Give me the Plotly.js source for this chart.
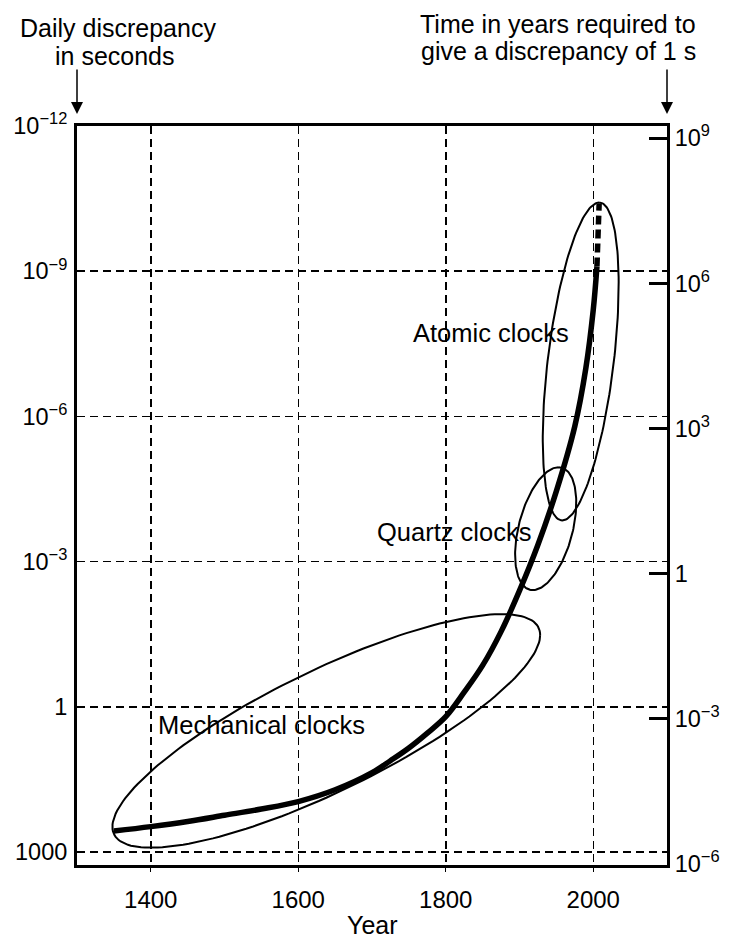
<!DOCTYPE html>
<html><head><meta charset="utf-8">
<script src="https://cdn.plot.ly/plotly-3.0.1.min.js"></script>
<style>html,body{margin:0;padding:0;background:#fff}#chart{width:730px;height:941px}</style>
</head><body><div id="chart"></div>
<script>
// Thick curve: year vs daily discrepancy (seconds)
const curveYears = [1350,1400,1450,1500,1550,1600,1650,1700,1725,1750,1775,1800,1825,1850,1875,1900,1925,1950,1975,1990,2000,2005];
const curveDiscrepancy = [370,300,235,175,130,91,52,23,13,7.1,3.5,1.6,0.5,0.14,0.028,0.004,4.5e-4,3.5e-5,1.6e-6,1e-7,6.3e-9,8e-10];
// Dashed projection
const projYears = [2005,2008];
const projDiscrepancy = [8e-10,4e-11];

// Ellipses (centre, conjugate half-axes A and B) in (year, log10 discrepancy)
const ellipseNames = ['Mechanical clocks','Quartz clocks','Atomic clocks'];
const ellipseCenterYear = [1638,1935.5,1983];
const ellipseCenterLog = [0.5,-3.68,-7.135];
const ellipseAYear = [290,17.5,25];
const ellipseALog = [-1.98,-1.27,-3.285];
const ellipseBYear = [0,37.6,45];
const ellipseBLog = [1.38,0,0];

// Labels
const labelText = ['Mechanical clocks','Quartz clocks','Atomic clocks'];
const labelYear = [1550,1811,1862];
const labelDiscrepancy = [2.4,2.45e-4,1.9e-8];

// Axes
const xTicks = [1400,1600,1800,2000];
const leftTickVals = [1e-12,1e-9,1e-6,1e-3,1,1000];
const leftTickText = ['10<sup>\u221212</sup>','10<sup>\u22129</sup>','10<sup>\u22126</sup>','10<sup>\u22123</sup>','1','1000'];
const rightTickVals = [1e9,1e6,1e3,1,1e-3,1e-6];
const rightTickText = ['10<sup>9</sup>','10<sup>6</sup>','10<sup>3</sup>','1','10<sup>\u22123</sup>','10<sup>\u22126</sup>'];

const traces = [];
for (let k = 0; k < ellipseNames.length; k++) {
  const xs = [], ys = [];
  for (let i = 0; i <= 180; i++) {
    const t = 2*Math.PI*i/180;
    xs.push(ellipseCenterYear[k] + ellipseAYear[k]*Math.cos(t) + ellipseBYear[k]*Math.sin(t));
    ys.push(Math.pow(10, ellipseCenterLog[k] + ellipseALog[k]*Math.cos(t) + ellipseBLog[k]*Math.sin(t)));
  }
  traces.push({x:xs, y:ys, mode:'lines', line:{color:'#000', width:2}, hoverinfo:'skip', name:ellipseNames[k]});
}
traces.push({x:curveYears, y:curveDiscrepancy, mode:'lines', line:{color:'#000', width:5.5, shape:'spline', smoothing:1}, hoverinfo:'skip'});
traces.push({x:projYears, y:projDiscrepancy, mode:'lines', line:{color:'#000', width:5.5, dash:'9px,5px'}, hoverinfo:'skip'});
traces.push({x:[1300], y:[1], yaxis:'y2', mode:'markers', marker:{opacity:0}, hoverinfo:'skip'});

const FONT = 'Liberation Sans, Arial, Helvetica, sans-serif';
const annotations = [];
for (let k = 0; k < labelText.length; k++) {
  annotations.push({x:labelYear[k], y:Math.log10(labelDiscrepancy[k]), xref:'x', yref:'y', text:labelText[k], showarrow:false, xanchor:'center', yanchor:'middle', font:{size:25.5}});
}
function px(p){ return (p-77)/590; }
annotations.push({xref:'paper', yref:'paper', x:px(118), xanchor:'center', y:1, yanchor:'middle', yshift:126-28, text:'Daily discrepancy', showarrow:false, font:{size:25}});
annotations.push({xref:'paper', yref:'paper', x:px(115), xanchor:'center', y:1, yanchor:'middle', yshift:126-56, text:'in seconds', showarrow:false, font:{size:25}});
annotations.push({xref:'paper', yref:'paper', x:px(698), xanchor:'right', y:1, yanchor:'middle', yshift:126-24, text:'Time in years required to', showarrow:false, font:{size:25}});
annotations.push({xref:'paper', yref:'paper', x:px(698), xanchor:'right', y:1, yanchor:'middle', yshift:126-51, text:'give a discrepancy of 1 s', showarrow:false, font:{size:25}});
annotations.push({xref:'paper', yref:'paper', x:0.5, xanchor:'center', y:0, yanchor:'middle', yshift:-(925-865), text:'Year', showarrow:false, font:{size:25}});
annotations.push({xref:'paper', yref:'paper', x:0, y:1, text:'', showarrow:true, ax:0, ay:-58, standoff:12, arrowhead:2, arrowsize:1.6, arrowwidth:1.5, arrowcolor:'#000'});
annotations.push({xref:'paper', yref:'paper', x:1, y:1, text:'', showarrow:true, ax:0, ay:-58, standoff:12, arrowhead:2, arrowsize:1.6, arrowwidth:1.5, arrowcolor:'#000'});

const grid = {showgrid:true, gridcolor:'#000', gridwidth:1.5, griddash:'8px,5px'};
const layout = {
  width:730, height:941,
  margin:{l:77, r:63, t:126, b:76, pad:0},
  paper_bgcolor:'#fff', plot_bgcolor:'#fff',
  font:{family:FONT, size:23.5, color:'#000'},
  showlegend:false,
  xaxis:Object.assign({range:[1300,2100], tickmode:'array', tickvals:xTicks, showline:true, linecolor:'#000', linewidth:3, mirror:true,
    ticks:'outside', ticklen:4, tickwidth:1, tickcolor:'#000', ticklabelstandoff:7, zeroline:false, tickfont:{size:24}}, grid),
  yaxis:Object.assign({type:'log', range:[3.27,-12], tickmode:'array', tickvals:leftTickVals, ticktext:leftTickText,
    showline:true, linecolor:'#000', linewidth:3, ticks:'', ticklabelstandoff:2, zeroline:false, tickfont:{size:23.5}}, grid),
  yaxis2:{type:'log', overlaying:'y', side:'right', range:[-6.02,9.25], tickmode:'array', tickvals:rightTickVals, ticktext:rightTickText,
    showline:true, linecolor:'#000', linewidth:3, ticks:'inside', ticklen:18, tickwidth:3, tickcolor:'#000', showgrid:false, zeroline:false, ticklabelstandoff:0, tickfont:{size:23.5}},
  annotations:annotations
};
Plotly.newPlot('chart', traces, layout, {displayModeBar:false, staticPlot:true});
</script>
</body></html>
